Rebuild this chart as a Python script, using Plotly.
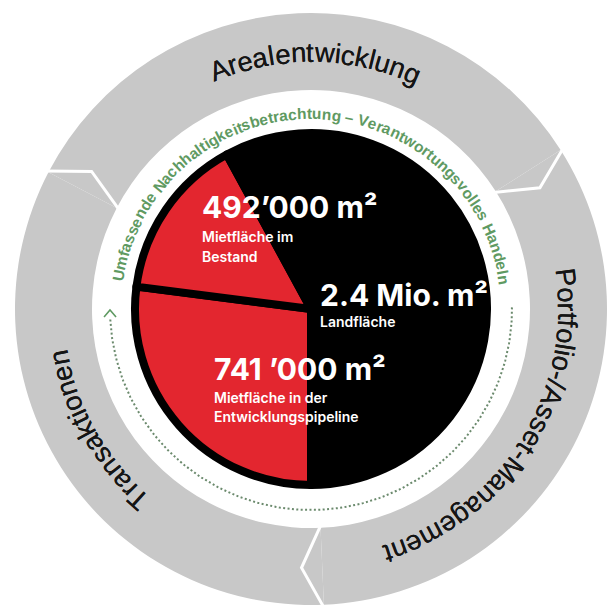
import math
import plotly.graph_objects as go

W = H = 608
CX, CY = 311, 309          # centre of the diagram in pixels

# ---------------- data ----------------
ring_labels = ["Arealentwicklung", "Portfolio-/Asset-Management", "Transaktionen"]
ring_values = [1, 1, 1]
ring_text_center_deg = [89, -32, 209.5]

disk_labels = ["Mietfläche in der Entwicklungspipeline", "Mietfläche im Bestand", "Landfläche"]
disk_share_deg = [97.3, 54.1, 208.6]          # visual share of the disk
value_texts = ["741 ’000 m²", "492’000 m²", "2.4 Mio. m²"]
caption_lines = [["Mietfläche in der", "Entwicklungspipeline"], ["Mietfläche im", "Bestand"], ["Landfläche"]]

inner_text = "Umfassende Nachhaltigkeitsbetrachtung – Verantwortungsvolles Handeln"
inner_text_center_deg = 89.6

# ---------------- layout / style ----------------
GRAY = "#c8c8c8"
RED = "#e3262f"
BLACK = "#000000"
GREEN = "#5f9a62"
DOTS = "#6b8a6d"

R_OUT, R_IN = 296, 219
R_DISK = 176
DISK_LINE = 8
RING_BASE_R = 247
RING_FONT = 27.5
INNER_BASE_R = 190
INNER_FONT = 15.5
DOT_R = 201

value_pos = [(212, 380), (200, 218), (318, 305.5)]   # left x, baseline y
caption_base = [[403, 422], [241.5, 261.5], [326.5]]

# Arial / Liberation Sans advance widths (em)
ARIAL = {' ': .278, '-': .333, '/': .278, '–': .556, '.': .278,
         'a': .556, 'b': .556, 'c': .5, 'd': .556, 'e': .556, 'f': .278, 'g': .556, 'h': .556,
         'i': .222, 'j': .222, 'k': .5, 'l': .222, 'm': .833, 'n': .556, 'o': .556, 'p': .556,
         'q': .556, 'r': .333, 's': .5, 't': .278, 'u': .556, 'v': .5, 'w': .722, 'x': .5,
         'y': .5, 'z': .5, 'A': .667, 'H': .722, 'M': .833, 'N': .722, 'P': .667, 'T': .611,
         'U': .722, 'V': .667}
ARIAL_B = {' ': .278, '-': .333, '/': .278, '–': .556, '.': .278,
           'a': .556, 'b': .611, 'c': .556, 'd': .611, 'e': .556, 'f': .333, 'g': .611, 'h': .611,
           'i': .278, 'j': .278, 'k': .556, 'l': .278, 'm': .889, 'n': .611, 'o': .611, 'p': .611,
           'q': .611, 'r': .389, 's': .556, 't': .333, 'u': .611, 'v': .556, 'w': .778, 'x': .556,
           'y': .556, 'z': .5, 'A': .722, 'H': .722, 'M': .833, 'N': .722, 'P': .667, 'T': .611,
           'U': .722, 'V': .667}


def px_to_domain(cx, cy, r):
    return dict(x=[(cx - r) / W, (cx + r) / W], y=[1 - (cy + r) / H, 1 - (cy - r) / H])


def polar(r, deg):
    t = math.radians(deg)
    return CX + r * math.cos(t), CY - r * math.sin(t)


annotations = []


def arc_text(text, center_deg, r_base, size, widths, color, family, weight, shadow="none"):
    ems = [widths.get(ch, 0.556) * size for ch in text]
    total = sum(ems)
    s = -total / 2
    rc = r_base + 0.35 * size
    for ch, w in zip(text, ems):
        mid = s + w / 2
        s += w
        if ch == ' ':
            continue
        theta = math.radians(center_deg) - mid / r_base
        x, y = CX + rc * math.cos(theta), CY - rc * math.sin(theta)
        ang = 90 - math.degrees(theta)
        ang = (ang + 180) % 360 - 180
        annotations.append(dict(x=x, y=y, xref="x", yref="y", text=ch, textangle=ang,
                                showarrow=False, xanchor="center", yanchor="middle",
                                font=dict(family=family, size=size, color=color, weight=weight,
                                          shadow=shadow)))


fig = go.Figure()

# dotted circular arrow (decorative)
angs = [183 + i for i in range(0, 179)]
pts = [polar(DOT_R, a) for a in angs]
fig.add_trace(go.Scatter(x=[p[0] for p in pts], y=[p[1] for p in pts], mode="lines",
                         line=dict(color=DOTS, width=2, dash="2px,2.4px"),
                         hoverinfo="skip", showlegend=False))
th = math.radians(180.3)
ax, ay = polar(DOT_R, 180.3)
tx, ty = math.sin(th), math.cos(th)
nx, ny = math.cos(th), -math.sin(th)
fig.add_trace(go.Scatter(x=[ax - 7 * tx + 6 * nx, ax, ax - 7 * tx - 6 * nx],
                         y=[ay - 7 * ty + 6 * ny, ay, ay - 7 * ty - 6 * ny], mode="lines",
                         line=dict(color=GREEN, width=1.6), hoverinfo="skip", showlegend=False))

# outer grey ring
fig.add_trace(go.Pie(labels=ring_labels, values=ring_values, sort=False, direction="clockwise",
                     rotation=-62.5, hole=R_IN / R_OUT, textinfo="none", hoverinfo="skip",
                     marker=dict(colors=[GRAY] * 3, line=dict(width=0)),
                     domain=px_to_domain(CX, CY, R_OUT), showlegend=False))

# central disk
fig.add_trace(go.Pie(labels=disk_labels, values=disk_share_deg, sort=False, direction="clockwise",
                     rotation=180, textinfo="none", hoverinfo="skip",
                     marker=dict(colors=[RED, RED, BLACK], line=dict(width=DISK_LINE, color=BLACK)),
                     domain=px_to_domain(CX, CY, R_DISK), showlegend=False))

# chevron separators in the ring
shapes = []
for b in [32.5, 152.5, 272.5]:
    p1 = polar(R_OUT + 3, b)
    p2 = polar(259, b - 4.6)
    p3 = polar(R_IN - 2, b)
    shapes.append(dict(type="path", xref="x", yref="y", layer="above",
                       path=f"M{p1[0]:.1f},{p1[1]:.1f} L{p2[0]:.1f},{p2[1]:.1f} L{p3[0]:.1f},{p3[1]:.1f}",
                       line=dict(color="white", width=3)))

# ring labels
for lab, ca in zip(ring_labels, ring_text_center_deg):
    arc_text(lab, ca, RING_BASE_R, RING_FONT, ARIAL, "#151515", "Liberation Sans", 400,
             shadow="0px 0px 0.6px #151515")

# inner green text
arc_text(inner_text, inner_text_center_deg, INNER_BASE_R, INNER_FONT, ARIAL_B, GREEN,
         "Liberation Sans", 700)

# central figures
BIG, SMALL = 30, 14
for val, (lx, by), caps, cbs in zip(value_texts, value_pos, caption_lines, caption_base):
    annotations.append(dict(x=lx, y=by - 0.364 * BIG, xref="x", yref="y", text=val,
                            showarrow=False, xanchor="left", yanchor="middle",
                            font=dict(family="Inter", size=BIG, color="white", weight=700)))
    for c, cb in zip(caps, cbs):
        annotations.append(dict(x=lx, y=cb - 0.364 * SMALL, xref="x", yref="y", text=c,
                                showarrow=False, xanchor="left", yanchor="middle",
                                font=dict(family="Inter", size=SMALL, color="white", weight=600)))

fig.update_layout(width=W, height=H, margin=dict(l=0, r=0, t=0, b=0),
                  paper_bgcolor="white", plot_bgcolor="white",
                  xaxis=dict(range=[0, W], visible=False, fixedrange=True),
                  yaxis=dict(range=[H, 0], visible=False, fixedrange=True),
                  shapes=shapes, annotations=annotations, showlegend=False)

fig.write_html("out.html", config={"displayModeBar": False},
               post_script="document.body.style.margin='0';")
